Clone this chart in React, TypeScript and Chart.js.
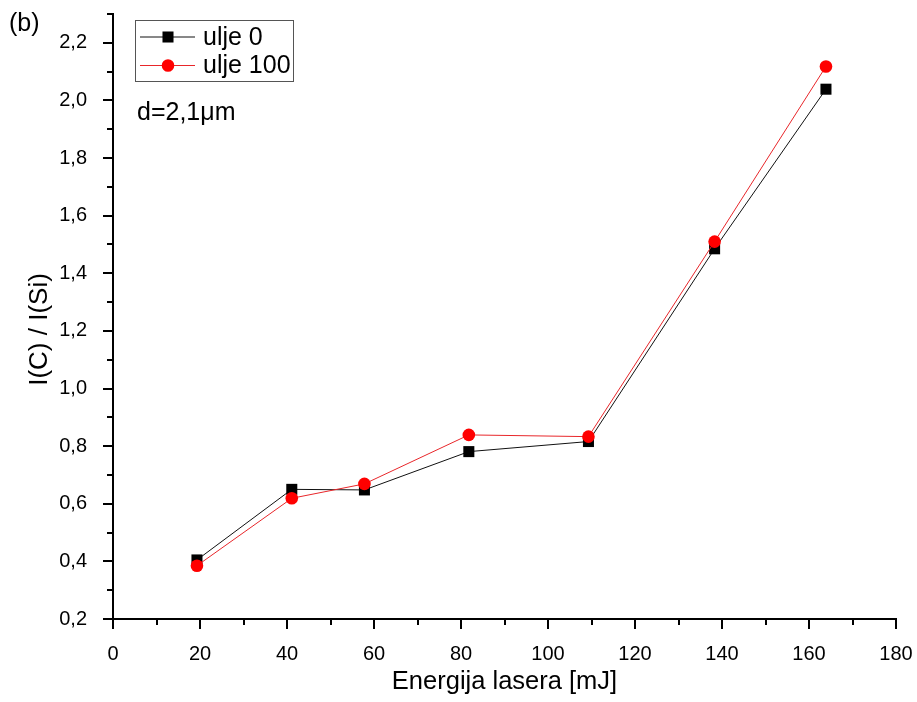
import React, { useEffect, useRef } from 'react';
import { Chart, registerables } from 'chart.js';

Chart.register(...registerables);

// ---- data ----
const energy = [19.3, 41.1, 57.8, 81.8, 109.3, 138.3, 163.9];
const ulje0 = [0.405, 0.65, 0.648, 0.781, 0.816, 1.485, 2.039];
const ulje100 = [0.385, 0.619, 0.669, 0.839, 0.833, 1.51, 2.118];
const seriesLabels = ['ulje 0', 'ulje 100'];

const xTicks = [0, 20, 40, 60, 80, 100, 120, 140, 160, 180];
const xMinorTicks = [10, 30, 50, 70, 90, 110, 130, 150, 170];
const yTicks = [0.2, 0.4, 0.6, 0.8, 1.0, 1.2, 1.4, 1.6, 1.8, 2.0, 2.2];
const yMinorTicks = [0.3, 0.5, 0.7, 0.9, 1.1, 1.3, 1.5, 1.7, 1.9, 2.1, 2.3];

const xTitle = 'Energija lasera [mJ]';
const yTitle = 'I(C) / I(Si)';
const panelLabel = '(b)';
const annotation = 'd=2,1\u03bcm';

const FONT = "'Liberation Sans', Arial, sans-serif";

const fmt = (v: number, digits: number) => v.toFixed(digits).replace('.', ',');

const axisTicksPlugin = {
  id: 'axisTicks',
  afterDraw(chart: any) {
    const { ctx, chartArea, scales } = chart;
    const xs = scales.x;
    const ys = scales.y;
    ctx.save();
    ctx.strokeStyle = '#000';
    ctx.lineWidth = 2;
    const drawX = (v: number, len: number) => {
      const px = Math.round(xs.getPixelForValue(v));
      ctx.beginPath();
      ctx.moveTo(px, chartArea.bottom);
      ctx.lineTo(px, chartArea.bottom + len);
      ctx.stroke();
    };
    const drawY = (v: number, len: number) => {
      const py = Math.round(ys.getPixelForValue(v));
      ctx.beginPath();
      ctx.moveTo(chartArea.left, py);
      ctx.lineTo(chartArea.left - len, py);
      ctx.stroke();
    };
    xTicks.forEach((v) => drawX(v, 10));
    xMinorTicks.forEach((v) => drawX(v, 6));
    yTicks.forEach((v) => drawY(v, 10));
    yMinorTicks.forEach((v) => drawY(v, 6));

    // y-axis title
    ctx.fillStyle = '#000';
    ctx.font = `26px ${FONT}`;
    ctx.textAlign = 'center';
    ctx.textBaseline = 'middle';
    ctx.translate(40, (chartArea.top + chartArea.bottom) / 2 + 13);
    ctx.rotate(-Math.PI / 2);
    ctx.fillText(yTitle, 0, 0);
    ctx.restore();
  },
};

const drawMarker = (ctx: CanvasRenderingContext2D, style: string, r: number, x: number, y: number, color: string) => {
  ctx.fillStyle = color;
  ctx.beginPath();
  if (style === 'rect') {
    const s = Math.SQRT1_2 * r;
    ctx.rect(x - s, y - s, 2 * s, 2 * s);
  } else {
    ctx.arc(x, y, r, 0, Math.PI * 2);
  }
  ctx.fill();
};

const legendPlugin = {
  id: 'boxLegend',
  afterDraw(chart: any) {
    const { ctx, chartArea } = chart;
    const datasets = chart.data.datasets;
    const left = chartArea.left + 22;
    const top = chartArea.top + 6;
    const rowH = 28.5;
    const w = 158;
    const h = 61;
    ctx.save();
    ctx.strokeStyle = '#555';
    ctx.lineWidth = 1;
    ctx.strokeRect(left + 0.5, top + 0.5, w, h);
    ctx.font = `25px ${FONT}`;
    ctx.textBaseline = 'middle';
    ctx.textAlign = 'left';
    datasets.forEach((ds: any, i: number) => {
      const cy = top + 17 + i * rowH;
      ctx.strokeStyle = ds.borderColor;
      ctx.lineWidth = ds.borderWidth;
      ctx.beginPath();
      ctx.moveTo(left + 5, cy);
      ctx.lineTo(left + 60, cy);
      ctx.stroke();
      drawMarker(ctx, ds.pointStyle, ds.pointRadius, left + 33, cy, ds.pointBackgroundColor);
      ctx.fillStyle = '#000';
      ctx.fillText(ds.label, left + 68, cy + 1);
    });
    // annotation inside the plot
    ctx.fillStyle = '#000';
    ctx.fillText(annotation, left + 2, chartArea.top + 99);
    // panel label
    ctx.fillText(panelLabel, 9, 24);
    ctx.restore();
  },
};

export default function App() {
  const canvasRef = useRef<HTMLCanvasElement | null>(null);

  useEffect(() => {
    const canvas = canvasRef.current;
    if (!canvas) return;
    Chart.defaults.font.family = FONT;
    Chart.defaults.color = '#000';
    const chart = new Chart(canvas, {
      type: 'line',
      data: {
        datasets: [
          {
            label: seriesLabels[0],
            data: energy.map((x, i) => ({ x, y: ulje0[i] })),
            borderColor: '#111',
            backgroundColor: '#000',
            borderWidth: 1,
            pointStyle: 'rect',
            pointRadius: 7.8,
            pointHoverRadius: 7.8,
            pointBackgroundColor: '#000',
            pointBorderWidth: 0,
            tension: 0,
            order: 2,
          },
          {
            label: seriesLabels[1],
            data: energy.map((x, i) => ({ x, y: ulje100[i] })),
            borderColor: '#e8262a',
            backgroundColor: '#ff0000',
            borderWidth: 1,
            pointStyle: 'circle',
            pointRadius: 6.3,
            pointHoverRadius: 6.3,
            pointBackgroundColor: '#ff0000',
            pointBorderWidth: 0,
            tension: 0,
            order: 1,
          },
        ],
      },
      options: {
        animation: false,
        responsive: false,
        maintainAspectRatio: false,
        layout: { padding: { left: 0, top: 14, right: 21, bottom: 0 } },
        plugins: {
          legend: { display: false },
          tooltip: { enabled: false },
        },
        scales: {
          x: {
            type: 'linear',
            min: 0,
            max: 180,
            grid: { display: false },
            border: { display: true, color: '#000', width: 2 },
            afterBuildTicks: (scale: any) => {
              scale.ticks = xTicks.map((v) => ({ value: v }));
            },
            afterFit: (scale: any) => {
              scale.height = 83;
              scale.paddingLeft = 0;
              scale.paddingRight = 0;
            },
            ticks: {
              padding: 15,
              color: '#000',
              font: { size: 20 },
              maxRotation: 0,
              autoSkip: false,
              callback: (v: any) => String(v),
            },
            title: {
              display: true,
              text: xTitle,
              color: '#000',
              font: { size: 25.5 },
              padding: { top: 0, bottom: 5 },
            },
          },
          y: {
            type: 'linear',
            min: 0.2,
            max: 2.3,
            grid: { display: false },
            border: { display: true, color: '#000', width: 2 },
            afterBuildTicks: (scale: any) => {
              scale.ticks = yTicks.map((v) => ({ value: v }));
            },
            afterFit: (scale: any) => {
              scale.width = 113;
              scale.paddingTop = 0;
              scale.paddingBottom = 0;
            },
            ticks: {
              padding: 18,
              color: '#000',
              font: { size: 20 },
              autoSkip: false,
              callback: (v: any) => fmt(Number(v), 1),
            },
            title: { display: false },
          },
        },
      },
      plugins: [axisTicksPlugin, legendPlugin],
    } as any);
    return () => chart.destroy();
  }, []);

  return (
    <div style={{ position: 'fixed', left: 0, top: 0, width: 917, height: 702, background: '#fff' }}>
      <canvas ref={canvasRef} width={917} height={702} style={{ display: 'block' }} />
    </div>
  );
}
